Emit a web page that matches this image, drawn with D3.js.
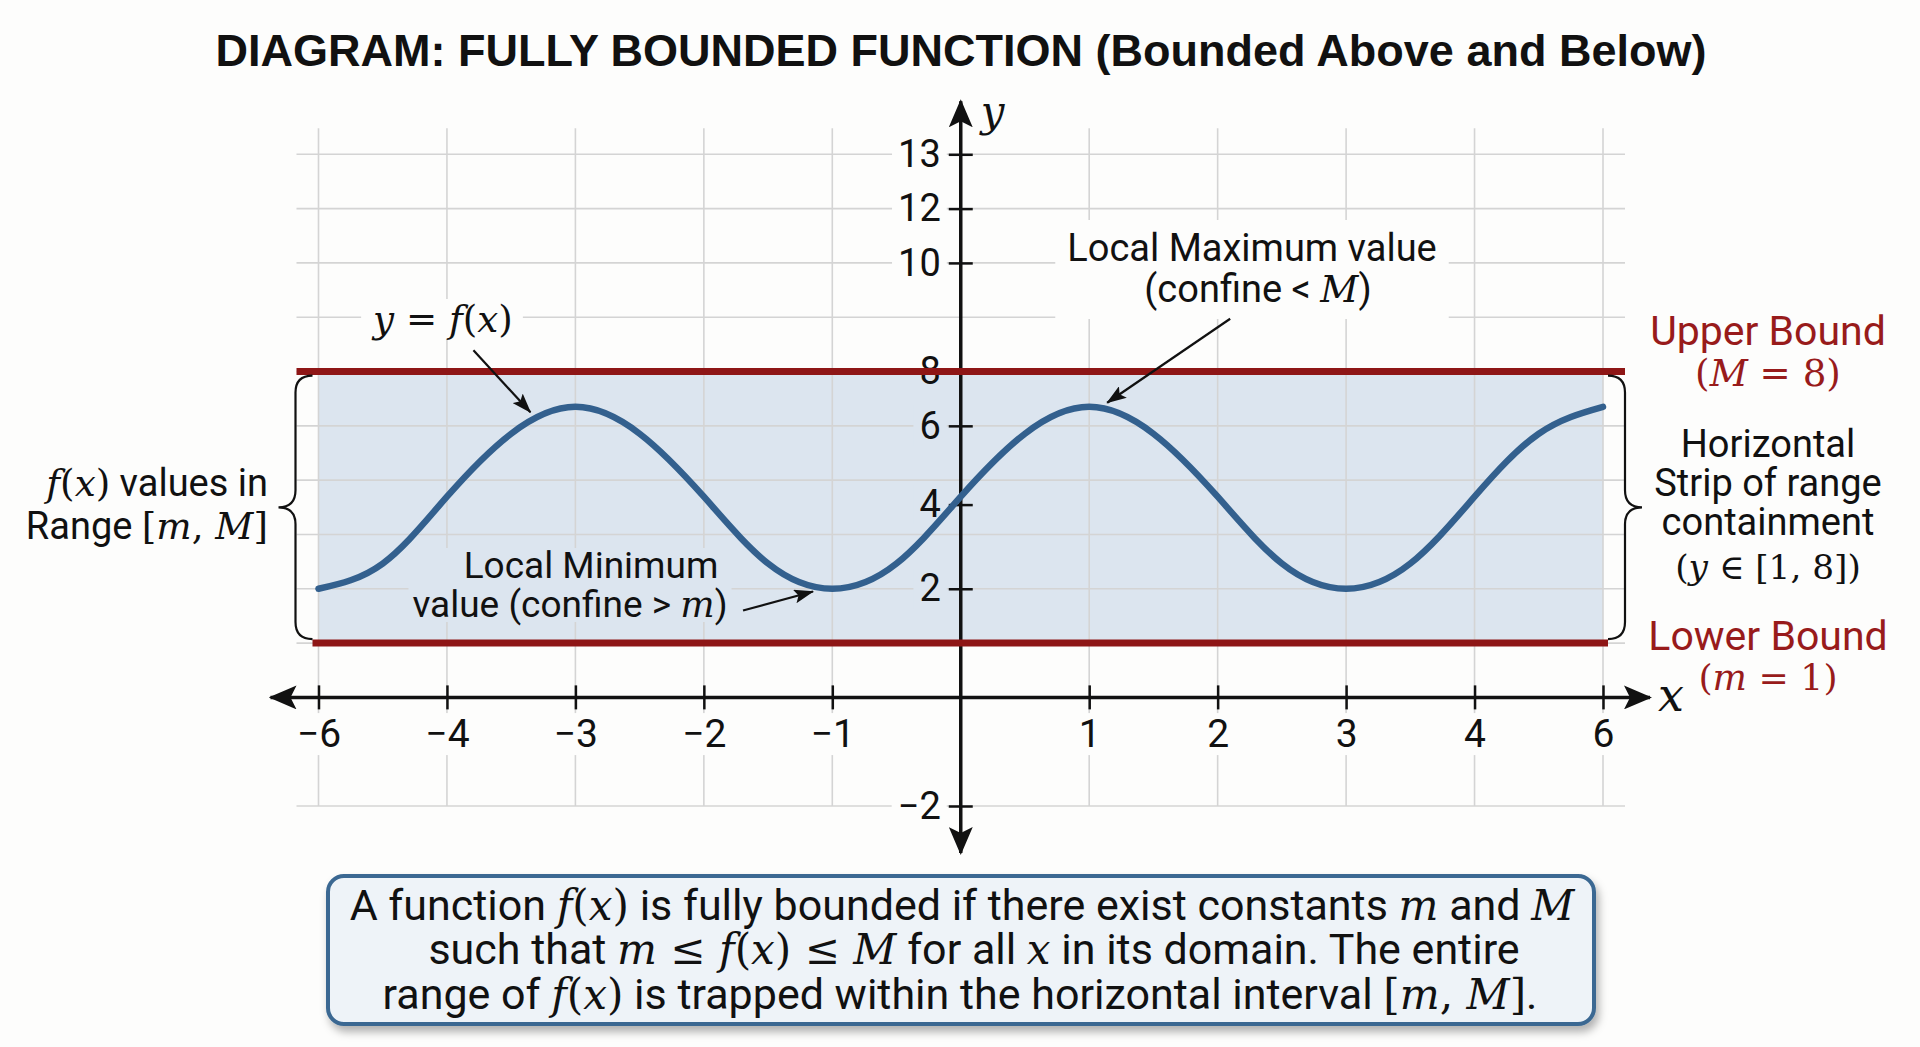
<!DOCTYPE html>
<html>
<head>
<meta charset="utf-8">
<script src="https://cdn.jsdelivr.net/npm/d3@7"></script>
<style>
html, body { margin: 0; padding: 0; background: #fdfdfc; }
svg { display: block; }
</style>
</head>
<body>
<svg id="chart" width="1920" height="1047"></svg>
<script>
// tick labels on the two axes (the picture labels them unevenly)
var xTicks = [-6, -4, -3, -2, -1, 1, 2, 3, 4, 6];
var yTicks = [13, 12, 10, 8, 6, 4, 2, -2];

// the plotted curve y = f(x)
var curveX = [-6, -5, -4, -3.5, -3, -2.5, -2, -1.5, -1, -0.5, 0, 0.5, 1, 1.5, 2, 2.5, 3, 3.5, 4, 5, 6];
var curveY = [2.0, 2.6, 4.2, 5.8, 6.7, 5.8, 4.2, 2.6, 2.0, 2.6, 4.2, 5.8, 6.7, 5.8, 4.2, 2.6, 2.0, 2.6, 4.2, 5.8, 6.7];

// the bounds
var lowerBound = 1;
var upperBound = 8;

var red = "#8e1616", redText = "#981b1b", blue = "#33608e", strip = "#dce5ef", grid = "#d4d4d4", bg = "#fdfdfc";
var sans = "Roboto", serif = "'DejaVu Serif', serif";

var svg = d3.select("#chart");

// ---- scales: the grid is regular, but the labels are not, so both scales are polylinear
var slotX = d3.scaleLinear().domain([0, 10]).range([318.5, 1603]);
var rowY = d3.scaleLinear().domain([0, 12]).range([154.3, 806]);

var xDomain = [-6, -4, -3, -2, -1, 0, 1, 2, 3, 4, 6];
var x = d3.scaleLinear().domain(xDomain).range(d3.range(11).map(slotX));
var y = d3.scaleLinear()
    .domain([13, 12, 10, 8, 6, 4, 2, 1, 0, -2])
    .range([0, 1, 2, 4, 5, 6.45, 8, 9, 10, 12].map(rowY));

var xLeft = x(-6), xRight = x(6);

// markers
var defs = svg.append("defs");
defs.append("marker").attr("id", "axisHead")
    .attr("markerUnits", "userSpaceOnUse").attr("viewBox", "0 0 28 24")
    .attr("markerWidth", 28).attr("markerHeight", 24)
    .attr("refX", 26).attr("refY", 12).attr("orient", "auto-start-reverse")
    .append("path").attr("d", "M0,0 L28,12 L0,24 L6,12 Z").attr("fill", "#111");
defs.append("marker").attr("id", "noteHead")
    .attr("markerUnits", "userSpaceOnUse").attr("viewBox", "0 0 20 14")
    .attr("markerWidth", 20).attr("markerHeight", 14)
    .attr("refX", 19).attr("refY", 7).attr("orient", "auto")
    .append("path").attr("d", "M0,0 L20,7 L0,14 L4,7 Z").attr("fill", "#111");
var shadow = defs.append("filter").attr("id", "shadow").attr("x", "-5%").attr("y", "-20%").attr("width", "110%").attr("height", "150%");
shadow.append("feDropShadow").attr("dx", 3).attr("dy", 6).attr("stdDeviation", 4)
    .attr("flood-color", "#000").attr("flood-opacity", 0.3);

// ---- shaded strip between the bounds
svg.append("rect")
    .attr("x", xLeft).attr("y", y(upperBound))
    .attr("width", xRight - xLeft).attr("height", y(lowerBound) - y(upperBound))
    .attr("fill", strip);

// ---- grid
var gridG = svg.append("g").attr("stroke", grid).attr("stroke-width", 1.6);
gridG.selectAll(".vg").data(xDomain).enter().append("line")
    .attr("x1", function (d) { return x(d); }).attr("x2", function (d) { return x(d); })
    .attr("y1", rowY(0) - 26).attr("y2", rowY(12));
gridG.selectAll(".hg").data(d3.range(13).filter(function (r) { return r !== 11; })).enter().append("line")
    .attr("x1", xLeft - 22).attr("x2", xRight + 22)
    .attr("y1", function (r) { return rowY(r); }).attr("y2", function (r) { return rowY(r); });

// helper: text with math pieces (r = plain sans, i = italic serif, m = upright serif)
function rich(sel, parts, size) {
    parts.forEach(function (p) {
        var t = sel.append("tspan").text(p[1]);
        if (p[0] === "i") t.attr("font-family", serif).attr("font-style", "italic").attr("font-size", size * 0.98);
        else if (p[0] === "m") t.attr("font-family", serif).attr("font-size", size * 0.98);
        else t.attr("font-family", sans).attr("font-size", size);
    });
    return sel;
}
function textLine(g, px, py, parts, size, anchor, fill) {
    var t = g.append("text").attr("x", px).attr("y", py)
        .attr("text-anchor", anchor || "middle").attr("fill", fill || "#111")
        .attr("font-family", sans).attr("font-size", size);
    return rich(t, parts, size);
}
function backing(g, textSel, fill, pad) {
    var b = textSel.node().getBBox();
    g.insert("rect", function () { return textSel.node(); })
        .attr("x", b.x - pad).attr("y", b.y + 2)
        .attr("width", b.width + 2 * pad).attr("height", b.height - 4)
        .attr("fill", fill);
}

// ---- axes ticks and labels
function fmt(d) { return d < 0 ? "\u2212" + (-d) : String(d); }

var gx = svg.append("g").attr("transform", "translate(0," + y(0) + ")")
    .call(d3.axisBottom(x).tickValues(xTicks).tickSize(12).tickPadding(10).tickFormat(fmt));
gx.select(".domain").remove();
gx.selectAll(".tick line").attr("y1", -12).attr("stroke", "#111").attr("stroke-width", 2.5);
gx.selectAll(".tick text").attr("font-family", sans).attr("font-size", 39).attr("fill", "#111");
gx.selectAll(".tick").each(function () {
    var tk = d3.select(this);
    backing(tk, tk.select("text"), bg, 8);
});

var gy = svg.append("g").attr("transform", "translate(" + x(0) + ",0)")
    .call(d3.axisLeft(y).tickValues(yTicks).tickSize(12).tickPadding(8).tickFormat(fmt));
gy.select(".domain").remove();
gy.selectAll(".tick line").attr("x1", 12).attr("stroke", "#111").attr("stroke-width", 2.5);
gy.selectAll(".tick text").attr("font-family", sans).attr("font-size", 38).attr("fill", "#111");
gy.selectAll(".tick").each(function (d) {
    if (d === upperBound) return;
    var tk = d3.select(this);
    backing(tk, tk.select("text"), (d > lowerBound && d < upperBound) ? strip : bg, 6);
});

// axis lines with arrows
svg.append("line").attr("x1", xLeft - 48).attr("x2", xRight + 47)
    .attr("y1", y(0)).attr("y2", y(0))
    .attr("stroke", "#111").attr("stroke-width", 3.5)
    .attr("marker-start", "url(#axisHead)").attr("marker-end", "url(#axisHead)");
svg.append("line").attr("x1", x(0)).attr("x2", x(0))
    .attr("y1", y(13) - 53).attr("y2", y(-2) + 47)
    .attr("stroke", "#111").attr("stroke-width", 3.5)
    .attr("marker-start", "url(#axisHead)").attr("marker-end", "url(#axisHead)");

svg.append("text").attr("x", x(0) + 20).attr("y", y(13) - 28)
    .attr("font-family", serif).attr("font-style", "italic").attr("font-size", 42).attr("fill", "#111").text("y");
svg.append("text").attr("x", xRight + 55).attr("y", y(0) + 14)
    .attr("font-family", serif).attr("font-style", "italic").attr("font-size", 46).attr("fill", "#111").text("x");

// ---- bound lines
svg.append("line").attr("x1", xLeft - 22).attr("x2", xRight + 22)
    .attr("y1", y(upperBound)).attr("y2", y(upperBound))
    .attr("stroke", red).attr("stroke-width", 7);
svg.append("line").attr("x1", xLeft - 6).attr("x2", xRight + 5)
    .attr("y1", y(lowerBound)).attr("y2", y(lowerBound))
    .attr("stroke", red).attr("stroke-width", 7);

// ---- the curve
var pts = curveX.map(function (v, i) { return { x: v, y: curveY[i] }; });
svg.append("path").datum(pts)
    .attr("fill", "none").attr("stroke", blue).attr("stroke-width", 6.5).attr("stroke-linecap", "round")
    .attr("d", d3.line()
        .x(function (d) { return x(d.x); })
        .y(function (d) { return y(d.y); })
        .curve(d3.curveNatural));

// ---- braces
function brace(bx, y0, y1, dir) {
    var w = 17, r = 17, ym = (y0 + y1) / 2;
    return "M" + (bx - dir * w) + "," + y0 +
        " Q" + bx + "," + y0 + " " + bx + "," + (y0 + r) +
        " L" + bx + "," + (ym - r) +
        " Q" + bx + "," + ym + " " + (bx + dir * w) + "," + ym +
        " Q" + bx + "," + ym + " " + bx + "," + (ym + r) +
        " L" + bx + "," + (y1 - r) +
        " Q" + bx + "," + y1 + " " + (bx - dir * w) + "," + y1;
}
svg.append("path").attr("d", brace(xLeft - 23, y(upperBound) + 4, y(lowerBound) - 4, -1))
    .attr("fill", "none").attr("stroke", "#111").attr("stroke-width", 2.2);
svg.append("path").attr("d", brace(xRight + 22, y(upperBound) + 4, y(lowerBound) - 4, 1))
    .attr("fill", "none").attr("stroke", "#111").attr("stroke-width", 2.2);

// ---- annotations
var notes = svg.append("g");

// y = f(x)
var fxLabel = textLine(notes, 443, 332, [["i", "y"], ["m", " = "], ["i", "f"], ["m", "("], ["i", "x"], ["m", ")"]], 38);
backing(notes, fxLabel, bg, 10);

// local maximum
var maxG = svg.append("g");
var max1 = textLine(maxG, 1252, 261, [["r", "Local Maximum value"]], 38);
var max2 = textLine(maxG, 1258, 302, [["r", "(confine < "], ["i", "M"], ["r", ")"]], 38);
var mb1 = max1.node().getBBox(), mb2 = max2.node().getBBox();
maxG.insert("rect", ":first-child")
    .attr("x", mb1.x - 12).attr("y", mb1.y - 6)
    .attr("width", mb1.width + 24).attr("height", mb2.y + mb2.height - mb1.y + 14)
    .attr("fill", bg);

// local minimum
var minG = svg.append("g");
var min1 = textLine(minG, 591, 578, [["r", "Local Minimum"]], 37);
var min2 = textLine(minG, 570, 617, [["r", "value (confine > "], ["i", "m"], ["r", ")"]], 37);
var nb1 = min1.node().getBBox(), nb2 = min2.node().getBBox();
minG.insert("rect", ":first-child")
    .attr("x", Math.min(nb1.x, nb2.x) - 4).attr("y", nb1.y + 4)
    .attr("width", Math.max(nb1.x + nb1.width, nb2.x + nb2.width) - Math.min(nb1.x, nb2.x) + 8)
    .attr("height", nb2.y + nb2.height - nb1.y - 8)
    .attr("fill", strip);

// arrows pointing at the curve
function note(tx, ty, dx, dy) {
    svg.append("line")
        .attr("x1", x(tx) + dx).attr("y1", y(ty) + dy)
        .attr("x2", x(tx)).attr("y2", y(ty))
        .attr("stroke", "#111").attr("stroke-width", 2.2)
        .attr("marker-end", "url(#noteHead)");
}
note(-3.35, 6.5, -57, -62);
note(1.14, 6.85, 123, -84);
note(-1.15, 1.95, -70, 19);

// left label
textLine(svg, 268, 496, [["i", "f"], ["m", "("], ["i", "x"], ["m", ")"], ["r", " values in"]], 38, "end");
textLine(svg, 268, 539, [["r", "Range "], ["m", "["], ["i", "m"], ["m", ", "], ["i", "M"], ["m", "]"]], 38, "end");

// right labels
textLine(svg, 1768, 345, [["r", "Upper Bound"]], 41, "middle", redText);
textLine(svg, 1768, 386, [["m", "("], ["i", "M"], ["m", " = 8)"]], 38, "middle", redText);
textLine(svg, 1768, 457, [["r", "Horizontal"]], 38);
textLine(svg, 1768, 496, [["r", "Strip of range"]], 38);
textLine(svg, 1768, 535, [["r", "containment"]], 38);
textLine(svg, 1768, 579, [["m", "("], ["i", "y"], ["m", " \u2208 [1, 8])"]], 35);
textLine(svg, 1768, 650, [["r", "Lower Bound"]], 41, "middle", redText);
textLine(svg, 1768, 690, [["m", "("], ["i", "m"], ["m", " = 1)"]], 37, "middle", redText);

// ---- title
svg.append("text").attr("x", 961).attr("y", 66).attr("text-anchor", "middle")
    .attr("font-family", "'Liberation Sans', Arial, sans-serif").attr("font-weight", "bold")
    .attr("font-size", 45).attr("fill", "#111")
    .text("DIAGRAM: FULLY BOUNDED FUNCTION (Bounded Above and Below)");

// ---- caption box
svg.append("rect").attr("x", 328).attr("y", 876).attr("width", 1266).attr("height", 148)
    .attr("rx", 16).attr("fill", "#eef3f8").attr("stroke", "#3b6892").attr("stroke-width", 4)
    .attr("filter", "url(#shadow)");
textLine(svg, 962, 920, [["r", "A function "], ["i", "f"], ["m", "("], ["i", "x"], ["m", ")"],
    ["r", " is fully bounded if there exist constants "], ["i", "m"], ["r", " and "], ["i", "M"]], 43);
textLine(svg, 974, 964, [["r", "such that "], ["i", "m"], ["m", " \u2264 "], ["i", "f"], ["m", "("], ["i", "x"], ["m", ")"],
    ["m", " \u2264 "], ["i", "M"], ["r", " for all "], ["i", "x"], ["r", " in its domain. The entire"]], 43);
textLine(svg, 960, 1009, [["r", "range of "], ["i", "f"], ["m", "("], ["i", "x"], ["m", ")"],
    ["r", " is trapped within the horizontal interval "], ["m", "["], ["i", "m"], ["m", ", "], ["i", "M"], ["m", "]"], ["r", "."]], 43);
</script>
</body>
</html>
